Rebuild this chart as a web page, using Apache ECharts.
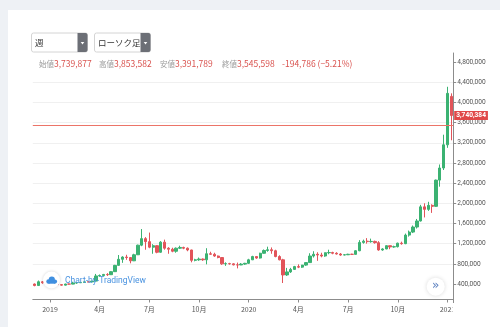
<!DOCTYPE html>
<html>
<head>
<meta charset="utf-8">
<script src="https://cdn.jsdelivr.net/npm/echarts@6/dist/echarts.min.js"></script>
<style>
  html, body { margin: 0; padding: 0; background: #eef1f5; }
  #card { position: absolute; left: 8px; top: 10px; right: 0; bottom: 0; background: #fff; }
  #chart { position: absolute; left: 0; top: 0; width: 500px; height: 327px; }
</style>
</head>
<body>
<div id="card"></div>
<div id="chart"></div>
<script>
// Weekly BTC/JPY candles (values in thousands of yen)
const firstWeek = '2018-12-10';
const UNIT = 1000;

const opens = [
  400, 370, 445, 425, 440, 395, 393, 388, 378, 400, 398, 420, 425, 432, 443, 442,
  458, 560, 568, 590, 585, 645, 770, 890, 935, 925, 860, 980, 1170, 1300, 1240, 1130,
  1160, 1030, 1230, 1110, 1090, 1050, 1110, 1125, 1110, 1075, 870, 880, 895, 880, 1000, 990,
  955, 925, 800, 805, 800, 780, 778, 795, 810, 880, 945, 915, 1010, 1065, 1080, 1060,
  945, 880, 580, 640, 690, 745, 735, 775, 825, 955, 990, 975, 955, 1020, 1025, 1010,
  995, 975, 980, 990, 988, 1060, 1225, 1250, 1240, 1245, 1220, 1075, 1095, 1160, 1135, 1140,
  1210, 1200, 1370, 1430, 1530, 1650, 1930, 1880, 1960, 1940, 2460, 2700, 3160, 4120
];
const closes = [
  370, 445, 425, 440, 395, 393, 388, 378, 400, 398, 420, 425, 432, 443, 442, 458,
  560, 568, 590, 585, 645, 770, 890, 935, 925, 860, 980, 1170, 1300, 1240, 1130, 1160,
  1030, 1230, 1110, 1090, 1050, 1110, 1125, 1110, 1075, 870, 880, 895, 880, 1000, 990, 955,
  925, 800, 805, 800, 780, 778, 795, 810, 880, 945, 915, 1010, 1065, 1080, 1060, 945,
  880, 580, 640, 690, 745, 735, 775, 825, 955, 990, 975, 955, 1020, 1025, 1010, 995,
  975, 980, 990, 988, 1060, 1225, 1250, 1240, 1245, 1220, 1075, 1095, 1160, 1135, 1140, 1210,
  1200, 1370, 1430, 1530, 1650, 1930, 1880, 1960, 1940, 2460, 2700, 3160, 4180, 3740.384
];
const lows = [
  355, 365, 405, 415, 385, 385, 378, 368, 372, 392, 395, 405, 420, 428, 435, 437,
  455, 545, 560, 560, 580, 640, 765, 820, 880, 810, 855, 975, 1150, 1080, 1110, 1000,
  1010, 1020, 1080, 1000, 1030, 1020, 1095, 1090, 1050, 830, 850, 860, 860, 790, 980, 940,
  910, 780, 760, 785, 770, 710, 775, 780, 800, 875, 900, 905, 1000, 1040, 1000, 930,
  870, 420, 560, 620, 680, 715, 720, 760, 820, 925, 860, 930, 940, 990, 990, 985,
  960, 970, 975, 975, 985, 1050, 1200, 1200, 1220, 1200, 1060, 1060, 1090, 1090, 1120, 1125,
  1180, 1190, 1340, 1410, 1500, 1640, 1720, 1850, 1810, 1930, 2330, 2660, 3100, 3250
];
const highs = [
  410, 470, 460, 455, 450, 410, 400, 392, 405, 408, 445, 430, 440, 448, 450, 462,
  600, 590, 600, 615, 655, 780, 975, 950, 980, 935, 1000, 1180, 1490, 1330, 1420, 1190,
  1170, 1250, 1280, 1130, 1120, 1125, 1160, 1140, 1125, 1080, 900, 925, 905, 1110, 1040, 1020,
  965, 930, 830, 820, 810, 825, 815, 820, 900, 960, 950, 1020, 1085, 1140, 1125, 1080,
  970, 900, 720, 720, 760, 790, 780, 835, 1010, 1050, 1030, 1020, 1025, 1080, 1040, 1030,
  1015, 995, 1000, 1000, 1070, 1270, 1280, 1310, 1300, 1260, 1250, 1110, 1165, 1160, 1160, 1220,
  1240, 1400, 1460, 1560, 1690, 1970, 2000, 2030, 1980, 2470, 2770, 3360, 4310, 4180
];

// Price axis ticks (yen)
const priceTicks = [400000, 800000, 1200000, 1600000, 2000000, 2400000, 2800000, 3200000,
                    3600000, 4000000, 4400000, 4800000];

// Current-bar summary shown above the chart
const headerLabels = ['始値', '高値', '安値', '終値'];
const headerValues = ['3,739,877', '3,853,582', '3,391,789', '3,545,598'];
const headerChange = '-194,786 (−5.21%)';
const lastPrice = 3740384;
const currentPrice = 3545598;

const UP = '#3bb272';
const DOWN = '#e2545a';
const PRICE_LINE = '#ec7468';

// Week start dates
const weeks = opens.map((_, i) => {
  const d = new Date(firstWeek + 'T00:00:00Z');
  d.setUTCDate(d.getUTCDate() + 7 * i);
  return d.toISOString().slice(0, 10);
});

// Quarter labels: first bar whose (local) start falls in Jan/Apr/Jul/Oct
function periodOf(i) {
  const d = new Date(weeks[i] + 'T00:00:00Z');
  d.setUTCDate(d.getUTCDate() - 1);
  return { y: d.getUTCFullYear(), m: d.getUTCMonth() };
}
const quarterLabel = {};
for (let i = 1; i < weeks.length; i++) {
  const a = periodOf(i - 1), b = periodOf(i);
  if (a.m !== b.m && b.m % 3 === 0) {
    quarterLabel[weeks[i]] = b.m === 0 ? String(b.y) : (b.m + 1) + '月';
  }
}
const isLabelled = (idx, val) => quarterLabel[val] !== undefined;

const candles = weeks.map((_, i) => [opens[i], closes[i], lows[i], highs[i]].map(v => Math.round(v * UNIT)));

const fmt = v => Math.round(v).toLocaleString('en-US');

const chart = echarts.init(document.getElementById('chart'), null, { renderer: 'canvas' });

const headerX = [39, 99, 160, 222];
const headerGraphics = headerLabels.map((l, i) => ({
  type: 'text', x: headerX[i], y: 64, z: 50,
  style: {
    text: '{l|' + l + '}{v|' + headerValues[i] + '}',
    verticalAlign: 'middle',
    rich: {
      l: { fontSize: 7.5, fill: '#9a9a9a', fontFamily: 'Noto Sans CJK JP' },
      v: { fontSize: 8.5, fill: '#d9534f', fontFamily: 'Noto Sans CJK JP' }
    }
  }
}));

function dropdown(x, w, label) {
  return [
    { type: 'rect', shape: { x: x, y: 33, width: w, height: 19, r: 2 },
      style: { fill: '#fff', stroke: '#d4d4d4', lineWidth: 1 }, z: 50 },
    { type: 'rect', shape: { x: x + w - 10, y: 33, width: 10, height: 19, r: [0, 2, 2, 0] },
      style: { fill: '#6c6f76' }, z: 51 },
    { type: 'polygon', shape: { points: [[x + w - 6.8, 42], [x + w - 3.2, 42], [x + w - 5, 44.5]] },
      style: { fill: '#fff' }, z: 52 },
    { type: 'text', x: x + 3.5, y: 42.5, z: 52,
      style: { text: label, fontSize: 8.5, fill: '#333', verticalAlign: 'middle',
               fontFamily: 'Noto Sans CJK JP' } }
  ];
}

// small cloud mark of the watermark, built from circles
const cloud = [
  { cx: 48.5, cy: 281.5, r: 2.2 },
  { cx: 51.8, cy: 279.6, r: 3.1 },
  { cx: 55, cy: 281.6, r: 2.1 }
].map(c => ({ type: 'circle', shape: c, z: 61, style: { fill: '#3f8fe0' } }));

const GRID = { left: 32.8, right: 46.8, top: 53, bottom: 22.8, containLabel: false };

chart.setOption({
  animation: false,
  backgroundColor: 'transparent',
  grid: GRID,
  xAxis: {
    type: 'category',
    data: weeks,
    boundaryGap: true,
    offset: -4.7,
    axisLine: { lineStyle: { color: '#8c8c8c', width: 1 } },
    axisTick: { show: true, interval: isLabelled, alignWithLabel: true, length: 3,
                lineStyle: { color: '#8c8c8c' } },
    axisLabel: {
      interval: isLabelled,
      formatter: v => quarterLabel[v] || '',
      fontSize: 7, color: '#555', margin: 6,
      fontFamily: 'Noto Sans CJK JP'
    },
    splitLine: { show: false }
  },
  yAxis: {
    type: 'value',
    position: 'right',
    min: 0,
    max: 4980000,
    interval: 400000,
    axisLine: { show: true, lineStyle: { color: '#8c8c8c', width: 1 } },
    axisTick: { show: true, length: 3, lineStyle: { color: '#8c8c8c' }, customValues: priceTicks },
    axisLabel: {
      customValues: priceTicks,
      formatter: fmt, fontSize: 6.6, color: '#555', margin: 4,
      fontFamily: 'Roboto'
    },
    splitLine: { show: true, showMinLine: false, showMaxLine: false,
                 lineStyle: { color: '#f0f0f0', width: 1 } }
  },
  series: [{
    type: 'candlestick',
    data: candles,
    barWidth: 2.8,
    itemStyle: { color: UP, color0: DOWN, borderColor: UP, borderColor0: DOWN, borderWidth: 1 },
    markLine: {
      silent: true,
      symbol: 'none',
      animation: false,
      precision: 0,
      data: [
        { yAxis: lastPrice,
          lineStyle: { color: 'rgba(0,0,0,0)', width: 0 },
          label: { show: true, position: 'end', distance: 1, formatter: fmt(lastPrice),
                   backgroundColor: '#e04848', color: '#fff', fontSize: 6.6, fontWeight: 'bold',
                   padding: [1, 2, 1, 2], fontFamily: 'Roboto' } }
      ]
    }
  }],
  graphic: [
    ...dropdown(31.5, 56, '週'),
    ...dropdown(94.5, 56, 'ローソク足'),
    ...headerGraphics,
    { type: 'text', x: 282, y: 64, z: 50,
      style: { text: headerChange, fontSize: 8.5, fill: '#d9534f', verticalAlign: 'middle',
               fontFamily: 'Noto Sans CJK JP' } },
    // watermark
    { type: 'circle', shape: { cx: 51.5, cy: 280, r: 8.5 }, z: 60,
      style: { fill: '#fff', shadowBlur: 3, shadowColor: 'rgba(0,0,0,0.18)' } },
    ...cloud,
    { type: 'rect', shape: { x: 48.5, y: 281.5, width: 6.5, height: 2.2 }, z: 61, style: { fill: '#3f8fe0' } },
    { type: 'text', x: 65, y: 281, z: 60,
      style: { text: 'Chart-by-TradingView', fontSize: 8.5, fill: '#4a93e0', verticalAlign: 'middle',
               fontFamily: 'Roboto' } },
    // scroll-to-latest button
    { type: 'circle', shape: { cx: 435.7, cy: 286.7, r: 9 }, z: 60,
      style: { fill: '#fff', shadowBlur: 4, shadowColor: 'rgba(0,0,0,0.15)' } },
    { type: 'text', x: 435.7, y: 286.2, z: 61,
      style: { text: '»', fontSize: 12, fill: '#5b7fbf', align: 'center', verticalAlign: 'middle',
               fontFamily: 'DejaVu Sans' } },
    // time scale ends at the price scale
    { type: 'rect', shape: { x: 452.6, y: 303, width: 30, height: 16 }, z: 70,
      style: { fill: '#fff' } }
  ]
});

// current-price line across the plot, placed through the price scale (filled 1px strip)
const priceY = Math.round(chart.convertToPixel({ yAxisIndex: 0 }, currentPrice));
chart.setOption({
  graphic: [{
    id: 'priceLine', type: 'rect', z: 40, silent: true,
    shape: { x: GRID.left, y: priceY, width: 500 - GRID.right - GRID.left, height: 1 },
    style: { fill: PRICE_LINE }
  }]
});
</script>
</body>
</html>
